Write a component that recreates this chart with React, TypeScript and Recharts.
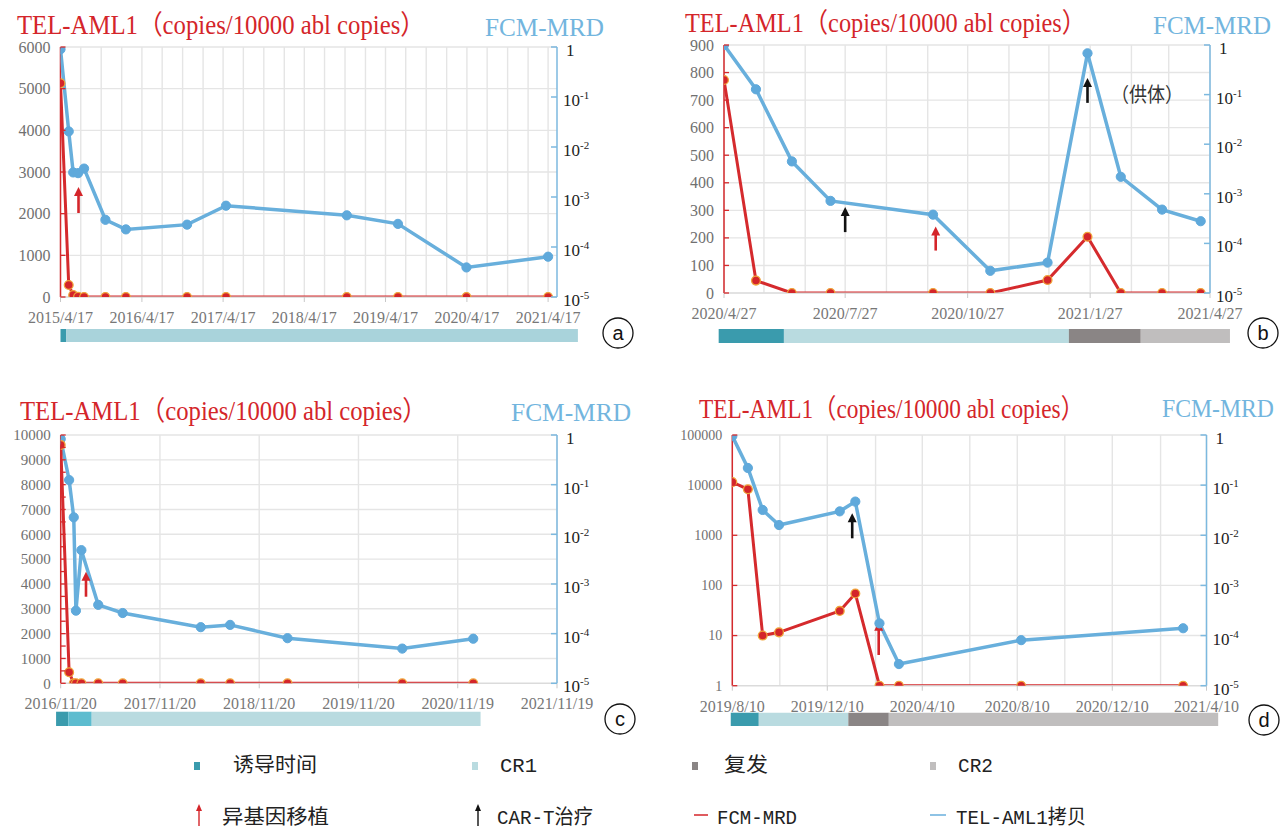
import React from 'react';
import { ComposedChart, Line, XAxis, YAxis, CartesianGrid, ReferenceArea, ReferenceLine } from 'recharts';

// ---------- helpers ----------
const ts = (s: string) => { const [y, m, d] = s.split('/').map(Number); return Date.UTC(y, m - 1, d); };
const fmt = (t: number) => { const d = new Date(t); return `${d.getUTCFullYear()}/${d.getUTCMonth() + 1}/${d.getUTCDate()}`; };
const addMonths = (s: string, n: number) => { const [y, m, d] = s.split('/').map(Number); return Date.UTC(y, m - 1 + n, d); };
const gridEvery = (start: string, step: number, count: number) => Array.from({ length: count }, (_, i) => addMonths(start, i * step));

// ---------- shared ----------
const MRD_TICKS = [1e-5, 1e-4, 1e-3, 1e-2, 1e-1, 1];
const PHASE_COLORS: Record<string, string> = { induction: '#3a9bad', induction2: '#5dbccf', cr1: '#b9dbe0', relapse: '#8a8585', cr2: '#c0bebe' };

// ---------- panel a ----------
const aDates = ['2015/4/17', '2015/5/24', '2015/6/13', '2015/7/5', '2015/8/1', '2015/11/5', '2016/2/5', '2016/11/6', '2017/4/30', '2018/10/25', '2019/6/12', '2020/4/15', '2021/4/17'];
const aTel = [5130, 288, 48, 7, 0, 0, 0, 0, 0, 0, 0, 0, 0];
const aMrd = [0.9, 0.0205, 0.0031, 0.003, 0.0037, 3.5e-4, 2.25e-4, 2.8e-4, 6.7e-4, 4.3e-4, 2.9e-4, 3.9e-5, 6.4e-5];
const aXTicks = ['2015/4/17', '2016/4/17', '2017/4/17', '2018/4/17', '2019/4/17', '2020/4/17', '2021/4/17'];
const aXEnd = '2021/5/27';
const aLeftTicks = [0, 1000, 2000, 3000, 4000, 5000, 6000];
const aPhaseBounds = ['2015/4/17', '2015/5/12', '2021/8/29'];
const aPhaseKinds = ['induction', 'cr1'];
const aHsctDates = ['2015/7/7'];
const aHsctFrom = [2016];
const aHsctTo = [2640];

// ---------- panel b ----------
const bDates = ['2020/4/27', '2020/5/21', '2020/6/17', '2020/7/16', '2020/10/1', '2020/11/13', '2020/12/26', '2021/1/25', '2021/2/19', '2021/3/22', '2021/4/20'];
const bTel = [773, 45, 0, 0, 0, 0, 47, 204, 0, 0, 0];
const bMrd = [1.0, 0.128, 0.0045, 7.2e-4, 3.8e-4, 2.8e-5, 4.1e-5, 0.68, 2.2e-3, 4.8e-4, 2.8e-4];
const bXTicks = ['2020/4/27', '2020/7/27', '2020/10/27', '2021/1/27', '2021/4/27'];
const bLeftTicks = [0, 100, 200, 300, 400, 500, 600, 700, 800, 900];
const bPhaseBounds = ['2020/4/23', '2020/6/11', '2021/1/11', '2021/3/6', '2021/5/12'];
const bPhaseKinds = ['induction', 'cr1', 'relapse', 'cr2'];
const bHsctDates = ['2020/10/3'];
const bHsctFrom = [154];
const bHsctTo = [241];
const bCartDates = ['2020/7/27', '2021/1/25'];
const bCartFrom = [221, 690];
const bCartTo = [312, 780];

// ---------- panel c ----------
const cDates = ['2016/11/20', '2016/12/21', '2017/1/7', '2017/1/15', '2017/2/4', '2017/4/7', '2017/7/6', '2018/4/19', '2018/8/5', '2019/3/4', '2020/4/29', '2021/1/15'];
const cTel = [9600, 443, 0, 0, 0, 0, 0, 0, 0, 0, 0, 0];
const cMrd = [0.83, 0.124, 0.022, 2.9e-4, 4.8e-3, 3.8e-4, 2.6e-4, 1.35e-4, 1.5e-4, 8.1e-5, 5e-5, 7.9e-5];
const cXTicks = ['2016/11/20', '2017/11/20', '2018/11/20', '2019/11/20', '2020/11/19', '2021/11/19'];
const cLeftTicks = [0, 500, 1000, 1500, 2000, 2500, 3000, 3500, 4000, 4500, 5000, 5500, 6000, 6500, 7000, 7500, 8000, 8500, 9000, 9500, 10000];
const cLeftMajor = [0, 1000, 2000, 3000, 4000, 5000, 6000, 7000, 8000, 9000, 10000];
const cPhaseBounds = ['2016/11/3', '2016/12/18', '2017/3/14', '2021/2/11'];
const cPhaseKinds = ['induction', 'induction2', 'cr1'];
const cHsctDates = ['2017/2/21'];
const cHsctFrom = [3487];
const cHsctTo = [4494];

// ---------- panel d ----------
const dDates = ['2019/8/10', '2019/8/30', '2019/9/18', '2019/10/9', '2019/12/26', '2020/1/15', '2020/2/15', '2020/3/11', '2020/8/15', '2021/3/11'];
const dTel = [11500, 8260, 10, 11.6, 31, 69, 1, 1, 1, 1];
const dMrd = [0.95, 0.22, 0.032, 0.016, 0.030, 0.047, 1.75e-4, 2.7e-5, 8.1e-5, 1.4e-4];
const dXTicks = ['2019/8/10', '2019/12/10', '2020/4/10', '2020/8/10', '2020/12/10', '2021/4/10'];
const dLeftTicks = [1, 10, 100, 1000, 10000, 100000];
const dPhaseBounds = ['2019/8/8', '2019/9/13', '2020/1/6', '2020/2/27', '2021/4/25'];
const dPhaseKinds = ['induction', 'cr1', 'relapse', 'cr2'];
const dHsctDates = ['2020/2/14'];
const dHsctFrom = [4.1];
const dHsctTo = [18.9];
const dCartDates = ['2020/1/11'];
const dCartFrom = [870];
const dCartTo = [2740];

// ---------- legend ----------
const legendPhaseKeys = ['induction', 'cr1', 'relapse', 'cr2'];
const legendPhaseLabels = ['诱导时间', 'CR1', '复发', 'CR2'];
const legendMarkLabels = ['异基因移植', 'CAR-T治疗', 'FCM-MRD', 'TEL-AML1拷贝'];

// ---------- styles ----------
const RED = '#d52a2d';
const BLUE = '#68afdc';
const BLUE_AXIS = '#7cb9df';
const SERIF = "'Liberation Serif', 'Times New Roman', 'Noto Sans CJK SC', serif";
const LEG = "'Liberation Mono', 'Noto Sans CJK SC', monospace";
const LEFT_AXIS_W = 60;

const arrowShape = (color: string) => (p: any) => {
  const { x1, y1, x2, y2 } = p;
  const head = 9;
  return (
    <g>
      <line x1={x1} y1={y1} x2={x2} y2={y2 + head - 1} stroke={color} strokeWidth={2.6} />
      <path d={`M${x2},${y2} L${x2 - 4.5},${y2 + head} L${x2 + 4.5},${y2 + head} Z`} fill={color} />
    </g>
  );
};

const XTick = (p: any) => {
  const { x, y, payload } = p;
  return (
    <g>
      <line x1={x} y1={y} x2={x} y2={y + 5} stroke="#c8c8c8" strokeWidth={1} />
      <text x={x} y={y + 26} textAnchor="middle" fontFamily={SERIF} fontSize={16} fill="#777">{fmt(payload.value)}</text>
    </g>
  );
};

const makeLeftTick = (major: number[], fontSize: number, axisX: number) => (p: any) => {
  const { y, payload } = p;
  const show = major.includes(payload.value);
  return (
    <g>
      <line x1={axisX} y1={y} x2={axisX + 5} y2={y} stroke={RED} strokeWidth={1.3} />
      {show && (
        <text x={axisX - 10} y={y} dy="0.35em" textAnchor="end" fontFamily={SERIF} fontSize={fontSize} fill="#707070">{payload.value}</text>
      )}
    </g>
  );
};

const RightTick = (p: any) => {
  const { x, y, payload } = p;
  const e = Math.round(Math.log10(payload.value));
  return (
    <g>
      <line x1={x - 6} y1={y} x2={x} y2={y} stroke={BLUE_AXIS} strokeWidth={1.5} />
      <text x={x + (e === 0 ? 9 : 6)} y={y + 9} fontFamily={SERIF} fontSize={17} fill="#222">
        {e === 0 ? '1' : (<>10<tspan fontSize={11} dy={-7}>{`-${-e}`}</tspan></>)}
      </text>
    </g>
  );
};

type PanelProps = {
  left: number; top: number; width: number; height: number;
  margin: { top: number; right: number; bottom: number; left: number };
  dates: string[]; tel: number[]; mrd: number[];
  xTicks: string[]; xEnd: string; grid: number[];
  leftTicks: number[]; leftMajor: number[]; leftLog?: boolean; leftFont: number;
  phaseBounds: string[]; phaseKinds: string[];
  hsctDates: string[]; hsctFrom: number[]; hsctTo: number[];
  cartDates?: string[]; cartFrom?: number[]; cartTo?: number[];
  barOffset: number; barHeight: number; plotHeight: number;
  cr1Color?: string;
};

const Panel = (pp: PanelProps) => {
  const rows = pp.dates.map((d, i) => ({ t: ts(d), tel: pp.tel[i], mrd: pp.mrd[i] }));
  const xTickVals = pp.xTicks.map(ts);
  const d0 = xTickVals[0];
  const d1 = ts(pp.xEnd);
  const yTop = -pp.barOffset / pp.plotHeight;
  const yBot = -(pp.barOffset + pp.barHeight) / pp.plotHeight;
  const leftDomain = [pp.leftTicks[0], pp.leftTicks[pp.leftTicks.length - 1]];
  const axisX = pp.margin.left + LEFT_AXIS_W;
  return (
    <div style={{ position: 'absolute', left: pp.left, top: pp.top }}>
      <ComposedChart width={pp.width} height={pp.height} data={rows} margin={pp.margin}>
        <CartesianGrid yAxisId="left" stroke="#e5e5e5" strokeWidth={1.4}
          horizontalValues={pp.leftMajor} verticalValues={pp.grid} />
        <XAxis dataKey="t" type="number" domain={[d0, d1]} allowDataOverflow ticks={xTickVals} interval={0}
          height={30} tickSize={0} tickMargin={0} tickLine={false} tick={XTick}
          axisLine={{ stroke: '#d9d9d9', strokeWidth: 1 }} />
        <YAxis yAxisId="left" orientation="left" width={LEFT_AXIS_W} type="number"
          scale={pp.leftLog ? 'log' : 'linear'} domain={leftDomain} allowDataOverflow
          ticks={pp.leftTicks} interval={0} tickSize={0} tickMargin={0} tickLine={false}
          tick={makeLeftTick(pp.leftMajor, pp.leftFont, axisX)} axisLine={false} />
        <YAxis yAxisId="right" orientation="right" width={60} type="number" scale="log"
          domain={[1e-5, 1]} allowDataOverflow ticks={MRD_TICKS} interval={0}
          tickSize={0} tickMargin={0} tickLine={false} tick={RightTick}
          axisLine={{ stroke: BLUE_AXIS, strokeWidth: 1.5 }} />
        <YAxis yAxisId="band" hide type="number" domain={[0, 1]} allowDataOverflow />
        <ReferenceLine yAxisId="left" x={d0} stroke={RED} strokeWidth={1.5} ifOverflow="visible" />
        {pp.phaseKinds.map((k, i) => (
          <ReferenceArea key={'ph' + i} yAxisId="band" x1={ts(pp.phaseBounds[i])} x2={ts(pp.phaseBounds[i + 1])}
            y1={yBot} y2={yTop} ifOverflow="visible"
            fill={k === 'cr1' && pp.cr1Color ? pp.cr1Color : PHASE_COLORS[k]} fillOpacity={1} stroke="none" />
        ))}
        <Line yAxisId="right" dataKey="mrd" stroke={BLUE} strokeWidth={3.5} isAnimationActive={false}
          dot={{ r: 4.6, fill: '#5fa9db', stroke: '#5fa9db', strokeWidth: 1 }} activeDot={false} />
        <Line yAxisId="left" dataKey="tel" stroke={RED} strokeWidth={3} isAnimationActive={false}
          dot={{ r: 4.4, fill: '#d4252a', stroke: '#f0a43a', strokeWidth: 1.3 }} activeDot={false} />
        {pp.hsctDates.map((d, i) => (
          <ReferenceLine key={'h' + i} yAxisId="left" ifOverflow="visible"
            segment={[{ x: ts(d), y: pp.hsctFrom[i] }, { x: ts(d), y: pp.hsctTo[i] }]}
            shape={arrowShape('#d4252a')} />
        ))}
        {(pp.cartDates || []).map((d, i) => (
          <ReferenceLine key={'c' + i} yAxisId="left" ifOverflow="visible"
            segment={[{ x: ts(d), y: (pp.cartFrom as number[])[i] }, { x: ts(d), y: (pp.cartTo as number[])[i] }]}
            shape={arrowShape('#111')} />
        ))}
      </ComposedChart>
    </div>
  );
};

const Title = ({ x, y, len, fx, fy, flen }: any) => (
  <g>
    <text x={x} y={y} fontFamily={SERIF} fontSize={27} fill="#d4252a" textLength={len} lengthAdjust="spacingAndGlyphs">TEL-AML1（copies/10000 abl copies）</text>
    <text x={fx} y={fy} fontFamily={SERIF} fontSize={26} fill="#72b5de" textLength={flen} lengthAdjust="spacingAndGlyphs">FCM-MRD</text>
  </g>
);

const Circ = ({ x, y, t }: any) => (
  <g>
    <circle cx={x} cy={y} r={15} fill="none" stroke="#111" strokeWidth={1.3} />
    <text x={x} y={y + 7} textAnchor="middle" fontFamily="'Liberation Sans', Arial, sans-serif" fontSize={20} fill="#111">{t}</text>
  </g>
);

const LegArrow = ({ x, y1, y2, color }: any) => (
  <g>
    <line x1={x} y1={y1} x2={x} y2={y2 + 5} stroke={color} strokeWidth={1.4} />
    <path d={`M${x},${y2} L${x - 3},${y2 + 7} L${x + 3},${y2 + 7} Z`} fill={color} />
  </g>
);

export default function App() {
  const phaseSymX = [194, 472, 692, 930];
  const phaseTextX = [233, 500, 724, 958];
  const phaseTextLen = [84, 37, 44, 35];
  const markSymX = [199, 478, 694, 930];
  const markTextX = [222, 497, 717, 956];
  const markTextLen = [107, 96, 80, 130];
  return (
    <div style={{ position: 'absolute', left: 0, top: 0, width: 1286, height: 830, background: '#fff', overflow: 'hidden' }}>
      <Panel left={0} top={0} width={640} height={370} margin={{ top: 47, right: 23, bottom: 43, left: 0.5 }}
        dates={aDates} tel={aTel} mrd={aMrd} xTicks={aXTicks} xEnd={aXEnd} grid={gridEvery('2015/4/17', 3, 25)}
        leftTicks={aLeftTicks} leftMajor={aLeftTicks} leftFont={16}
        phaseBounds={aPhaseBounds} phaseKinds={aPhaseKinds}
        hsctDates={aHsctDates} hsctFrom={aHsctFrom} hsctTo={aHsctTo}
        barOffset={32} barHeight={13} plotHeight={250} cr1Color="#a9d3db" />
      <Panel left={640} top={0} width={646} height={370} margin={{ top: 45, right: 16, bottom: 47, left: 24 }}
        dates={bDates} tel={bTel} mrd={bMrd} xTicks={bXTicks} xEnd={bXTicks[bXTicks.length - 1]} grid={gridEvery('2020/4/27', 1, 13)}
        leftTicks={bLeftTicks} leftMajor={bLeftTicks} leftFont={16}
        phaseBounds={bPhaseBounds} phaseKinds={bPhaseKinds}
        hsctDates={bHsctDates} hsctFrom={bHsctFrom} hsctTo={bHsctTo}
        cartDates={bCartDates} cartFrom={bCartFrom} cartTo={bCartTo}
        barOffset={36} barHeight={14} plotHeight={248} />
      <Panel left={0} top={385} width={640} height={370} margin={{ top: 50, right: 23, bottom: 41.7, left: 0.7 }}
        dates={cDates} tel={cTel} mrd={cMrd} xTicks={cXTicks} xEnd={cXTicks[cXTicks.length - 1]} grid={cXTicks.map(ts)}
        leftTicks={cLeftTicks} leftMajor={cLeftMajor} leftFont={15}
        phaseBounds={cPhaseBounds} phaseKinds={cPhaseKinds}
        hsctDates={cHsctDates} hsctFrom={cHsctFrom} hsctTo={cHsctTo}
        barOffset={28.4} barHeight={14.3} plotHeight={248.3} />
      <Panel left={640} top={385} width={646} height={370} margin={{ top: 50, right: 19.5, bottom: 39.3, left: 32.3 }}
        dates={dDates} tel={dTel} mrd={dMrd} xTicks={dXTicks} xEnd={dXTicks[dXTicks.length - 1]} grid={gridEvery('2019/8/10', 2, 11)}
        leftTicks={dLeftTicks} leftMajor={dLeftTicks} leftLog leftFont={14}
        phaseBounds={dPhaseBounds} phaseKinds={dPhaseKinds}
        hsctDates={dHsctDates} hsctFrom={dHsctFrom} hsctTo={dHsctTo}
        cartDates={dCartDates} cartFrom={dCartFrom} cartTo={dCartTo}
        barOffset={27} barHeight={13.3} plotHeight={250.7} />
      <svg width={1286} height={830} style={{ position: 'absolute', left: 0, top: 0, pointerEvents: 'none' }}>
        <Title x={17} y={34} len={408} fx={485} fy={36} flen={119} />
        <Title x={685} y={32} len={401} fx={1153} fy={34} flen={118} />
        <Title x={20} y={420} len={407} fx={511} fy={421} flen={120} />
        <Title x={699} y={418} len={385} fx={1162} fy={417} flen={112} />
        <text x={1111} y={102} fontFamily={SERIF} fontSize={20} fill="#333" textLength={72} lengthAdjust="spacingAndGlyphs">（供体）</text>
        <Circ x={618} y={333} t="a" />
        <Circ x={1263} y={333} t="b" />
        <Circ x={620} y={719} t="c" />
        <Circ x={1264} y={720} t="d" />
        {legendPhaseKeys.map((k, i) => (
          <g key={k}>
            <rect x={phaseSymX[i]} y={762} width={6} height={8} fill={PHASE_COLORS[k]} />
            <text x={phaseTextX[i]} y={772} fontFamily={LEG} fontSize={20} fill="#222" textLength={phaseTextLen[i]} lengthAdjust="spacingAndGlyphs">{legendPhaseLabels[i]}</text>
          </g>
        ))}
        <LegArrow x={markSymX[0]} y1={826} y2={804} color="#d4252a" />
        <LegArrow x={markSymX[1]} y1={826} y2={804} color="#111" />
        <line x1={markSymX[2]} y1={815} x2={markSymX[2] + 14} y2={815} stroke="#d4252a" strokeWidth={1.5} />
        <line x1={markSymX[3]} y1={815} x2={markSymX[3] + 16} y2={815} stroke={BLUE} strokeWidth={1.5} />
        {legendMarkLabels.map((t, i) => (
          <text key={t} x={markTextX[i]} y={824} fontFamily={LEG} fontSize={20} fill="#222" textLength={markTextLen[i]} lengthAdjust="spacingAndGlyphs">{t}</text>
        ))}
      </svg>
    </div>
  );
}
